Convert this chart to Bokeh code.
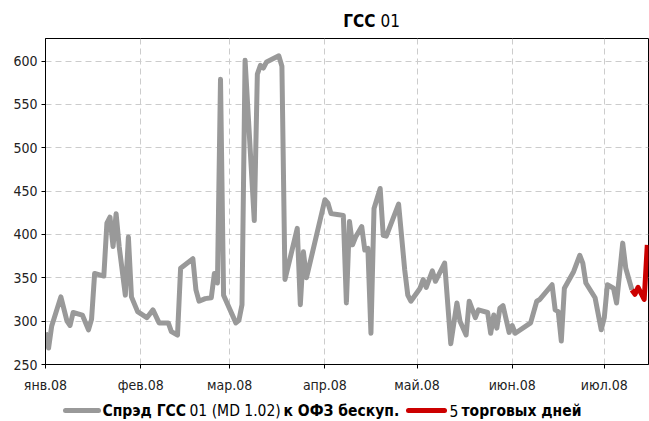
import pandas as pd
from bokeh.plotting import figure
from bokeh.layouts import column
from bokeh.models import FixedTicker, Range1d, Label, Arrow
from bokeh.embed import file_html
from bokeh.resources import INLINE

gray_dates = [
    "2008-01-01", "2008-01-02", "2008-01-03", "2008-01-06", "2008-01-08", "2008-01-09",
    "2008-01-10", "2008-01-13", "2008-01-15", "2008-01-16", "2008-01-17", "2008-01-20",
    "2008-01-21", "2008-01-22", "2008-01-23", "2008-01-24", "2008-01-25", "2008-01-27",
    "2008-01-28", "2008-01-29", "2008-01-31", "2008-02-03", "2008-02-05", "2008-02-07",
    "2008-02-10", "2008-02-11", "2008-02-13", "2008-02-14", "2008-02-18", "2008-02-19",
    "2008-02-20", "2008-02-22", "2008-02-24", "2008-02-25", "2008-02-26", "2008-02-27",
    "2008-02-28", "2008-03-03", "2008-03-04", "2008-03-05", "2008-03-06", "2008-03-09",
    "2008-03-10", "2008-03-11", "2008-03-12", "2008-03-13", "2008-03-17", "2008-03-18",
    "2008-03-19", "2008-03-23", "2008-03-24", "2008-03-25", "2008-03-26", "2008-04-01",
    "2008-04-02", "2008-04-03", "2008-04-05", "2008-04-07", "2008-04-08", "2008-04-09",
    "2008-04-10", "2008-04-11", "2008-04-13", "2008-04-14", "2008-04-15", "2008-04-16",
    "2008-04-17", "2008-04-19", "2008-04-20", "2008-04-21", "2008-04-25", "2008-04-27",
    "2008-04-28", "2008-04-29", "2008-05-02", "2008-05-03", "2008-05-04", "2008-05-06",
    "2008-05-07", "2008-05-10", "2008-05-12", "2008-05-14", "2008-05-15", "2008-05-17",
    "2008-05-18", "2008-05-20", "2008-05-21", "2008-05-24", "2008-05-25", "2008-05-26",
    "2008-05-27", "2008-05-28", "2008-05-29", "2008-05-31", "2008-06-01", "2008-06-02",
    "2008-06-07", "2008-06-09", "2008-06-10", "2008-06-14", "2008-06-15", "2008-06-16",
    "2008-06-17", "2008-06-18", "2008-06-21", "2008-06-23", "2008-06-24", "2008-06-25",
    "2008-06-28", "2008-06-30", "2008-07-01", "2008-07-02", "2008-07-04", "2008-07-05",
    "2008-07-07", "2008-07-08", "2008-07-10",
]
gray_values = [
    287, 269, 294, 328, 300, 295,
    310, 307, 290, 302, 355, 352,
    413, 420, 386, 424, 386, 330,
    397, 328, 311, 304, 313, 298,
    298, 288, 284, 361, 372, 336,
    323, 326, 327, 355, 344, 579,
    330, 298, 301, 319, 601, 416,
    585, 595, 592, 599, 606, 594,
    348, 407, 319, 380, 350, 440,
    436, 424, 423, 422, 321, 415,
    388, 397, 409, 382, 384, 286,
    430, 453, 399, 398, 435, 359,
    330, 323, 338, 348, 339, 358,
    346, 367, 274, 321, 300, 284,
    323, 304, 313, 310, 286, 307,
    292, 315, 318, 287, 295, 286,
    298, 323, 325, 342, 313, 311,
    277, 338, 357, 376, 367, 344,
    327, 290, 304, 342, 338, 321,
    390, 361, 336,
]
red_dates = ["2008-07-10", "2008-07-11", "2008-07-12", "2008-07-13", "2008-07-14", "2008-07-15"]
red_values = [336, 331, 339, 332, 325, 388]

month_ticks = ["2008-01-01", "2008-02-01", "2008-03-01", "2008-04-01", "2008-05-01", "2008-06-01", "2008-07-01"]
month_labels = ["янв.08", "фев.08", "мар.08", "апр.08", "май.08", "июн.08", "июл.08"]
y_ticks = [250, 300, 350, 400, 450, 500, 550, 600]

series_name_parts = ["Спрэд ГСС", "01 (MD 1.02)", "к ОФЗ бескуп."]
red_name_parts = ["5", "торговых дней"]
title_parts = ["ГСС", "01"]

FONT = "Liberation Sans Narrow, Arial Narrow, DejaVu Sans Condensed, sans-serif"
GRAY = "#999999"
RED = "#cc0000"

W = 649
FRAME_L, FRAME_R = 45, 648   # page x of plot frame (strips are aligned to it)
TOP_H = 38      # title strip
LEG_H = 26      # legend strip
MAIN_H = 421 - TOP_H - LEG_H


def strip(y0, y1):
    f = figure(width=W, height=y1 - y0, output_backend="svg", toolbar_location=None,
               x_range=Range1d(FRAME_L, FRAME_R), y_range=Range1d(y1, y0),
               min_border_left=FRAME_L, min_border_right=W - FRAME_R,
               min_border_top=0, min_border_bottom=0,
               x_axis_location=None, y_axis_location=None)
    f.grid.visible = False
    f.outline_line_color = None
    f.background_fill_color = "white"
    f.border_fill_color = "white"
    return f


# ---- title strip (page coords 0..38)
top = strip(0, TOP_H)
top.add_layout(Label(x=375, y=20, text=title_parts[0], text_font=FONT, text_font_size="17px",
                     text_font_style="bold", text_align="right", text_baseline="middle",
                     text_color="black"))
top.add_layout(Label(x=380, y=20, text=title_parts[1], text_font=FONT, text_font_size="17px",
                     text_font_style="normal", text_align="left", text_baseline="middle",
                     text_color="black"))

# ---- main plot
gx = pd.to_datetime(gray_dates)
rx = pd.to_datetime(red_dates)
tick_ms = [int(pd.Timestamp(d).value // 10**6) for d in month_ticks]
x_start = pd.Timestamp("2008-01-01")
x_end = x_start + pd.Timedelta(days=196.4)

p = figure(width=W, height=MAIN_H, x_axis_type="datetime", output_backend="svg",
           toolbar_location=None,
           x_range=Range1d(x_start, x_end), y_range=Range1d(250, 626),
           min_border_left=FRAME_L, min_border_right=W - FRAME_R, min_border_top=0,
           min_border_bottom=MAIN_H - (366 - TOP_H))

p.line(gx, gray_values, line_color=GRAY, line_width=5, line_join="round")
p.line(rx, red_values, line_color=RED, line_width=5, line_join="round")

p.xaxis.ticker = FixedTicker(ticks=tick_ms)
p.xaxis.major_label_overrides = {t: l for t, l in zip(tick_ms, month_labels)}
p.yaxis.ticker = FixedTicker(ticks=y_ticks)

for ax in (p.xaxis[0], p.yaxis[0]):
    ax.axis_line_color = "black"
    ax.axis_line_width = 1
    ax.major_tick_line_color = "black"
    ax.major_tick_in = 0
    ax.major_tick_out = 4
    ax.minor_tick_line_color = None
    ax.major_label_text_font = FONT
    ax.major_label_text_font_size = "14px"
    ax.major_label_text_color = "#222222"
p.xaxis.major_label_standoff = 8
p.yaxis.major_label_standoff = 4

p.xgrid.grid_line_color = "#cccccc"
p.xgrid.grid_line_dash = "6 4"
p.ygrid.grid_line_color = "#cccccc"
p.ygrid.grid_line_dash = "6 4"
p.outline_line_color = "black"
p.outline_line_width = 1
p.background_fill_color = "white"
p.border_fill_color = "white"

# ---- legend strip (page coords 395..421)
leg = strip(421 - LEG_H, 421)
ly = 410
leg.add_layout(Arrow(x_start=65, y_start=ly, x_end=98, y_end=ly, end=None,
                     line_color=GRAY, line_width=5, line_cap="round"))
leg.add_layout(Arrow(x_start=408, y_start=ly, x_end=444, y_end=ly, end=None,
                     line_color=RED, line_width=5, line_cap="round"))
legend_pieces = [
    (102, series_name_parts[0], "bold"),
    (189, series_name_parts[1], "normal"),
    (283, series_name_parts[2], "bold"),
    (449, red_name_parts[0], "normal"),
    (461, red_name_parts[1], "bold"),
]
for x0, txt, style in legend_pieces:
    leg.add_layout(Label(x=x0, y=ly, text=txt, text_font=FONT, text_font_size="15.5px",
                         text_font_style=style, text_align="left", text_baseline="middle",
                         text_color="black"))

layout = column(top, p, leg, spacing=0)
open("out.html", "w").write(file_html(layout, INLINE))
